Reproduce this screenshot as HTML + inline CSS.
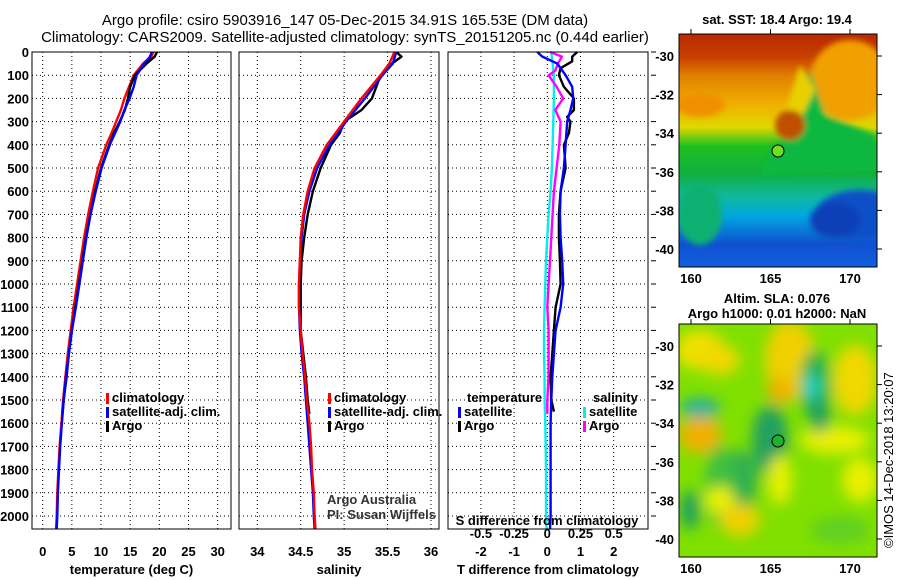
<!DOCTYPE html>
<html><head><meta charset="utf-8"><style>
body{margin:0;background:#fff}
svg{display:block;font-family:"Liberation Sans",sans-serif}
.t{font-size:13px;font-weight:bold;fill:#000}
</style></head><body>
<svg id="s" width="900" height="580" viewBox="0 0 900 580">
<defs>
<filter id="bl" x="-20%" y="-20%" width="140%" height="140%"><feGaussianBlur stdDeviation="7"/></filter>
<filter id="bl2"><feGaussianBlur stdDeviation="3"/></filter>
<clipPath id="c1"><rect x="679" y="34" width="198" height="233"/></clipPath>
<clipPath id="c2"><rect x="679" y="324" width="198" height="233"/></clipPath>
<linearGradient id="sst" x1="0" y1="0" x2="0" y2="1">
<stop offset="0" stop-color="#b82800"/><stop offset="0.1" stop-color="#c84000"/><stop offset="0.18" stop-color="#e08000"/>
<stop offset="0.3" stop-color="#f0b000"/><stop offset="0.4" stop-color="#e0d800"/><stop offset="0.48" stop-color="#20c020"/>
<stop offset="0.6" stop-color="#10b040"/><stop offset="0.7" stop-color="#10b8a0"/><stop offset="0.78" stop-color="#00a8e0"/>
<stop offset="0.9" stop-color="#1050d0"/><stop offset="1" stop-color="#1060e0"/></linearGradient>
</defs>
<text x="345" y="25" text-anchor="middle" style="font-size:15px">Argo profile: csiro 5903916_147 05-Dec-2015 34.91S 165.53E (DM data)</text>
<text x="345" y="42" text-anchor="middle" style="font-size:15px">Climatology: CARS2009. Satellite-adjusted climatology: synTS_20151205.nc (0.44d earlier)</text>
<g id="maps">
<g clip-path="url(#c1)">
<rect x="679" y="34" width="198" height="233" fill="url(#sst)"/>
<g filter="url(#bl2)">
<ellipse cx="850" cy="80" rx="40" ry="40" fill="#f0a000"/>
<polygon points="810,70 825,115 877,135 877,170 760,175 770,150 800,125" fill="#10b840"/>
<polygon points="800,65 815,90 800,120 790,140 780,130" fill="#e8d000"/>
<ellipse cx="790" cy="125" rx="15" ry="15" fill="#c05000"/>
<ellipse cx="860" cy="215" rx="45" ry="25" fill="#1050c8"/>
<ellipse cx="835" cy="220" rx="25" ry="18" fill="#1040b8"/>
<ellipse cx="700" cy="215" rx="22" ry="30" fill="#10b070"/>
<ellipse cx="700" cy="105" rx="25" ry="12" fill="#f09000"/>
</g>
<circle cx="778" cy="151" r="6" fill="#70e020" stroke="#000"/>
</g>
<rect x="679" y="34" width="198" height="233" fill="none" stroke="#000"/>
<g clip-path="url(#c2)">
<rect x="679" y="324" width="198" height="233" fill="#80e000"/>
<g filter="url(#bl)">
<ellipse cx="700" cy="350" rx="25" ry="20" fill="#f0e000"/>
<ellipse cx="720" cy="360" rx="20" ry="15" fill="#f0d800"/>
<ellipse cx="790" cy="360" rx="25" ry="40" fill="#f0d000"/>
<ellipse cx="780" cy="390" rx="12" ry="14" fill="#f0b000"/>
<ellipse cx="855" cy="380" rx="22" ry="35" fill="#f0d800"/>
<ellipse cx="815" cy="385" rx="15" ry="35" fill="#20b050"/>
<ellipse cx="812" cy="387" rx="8" ry="14" fill="#20d0c0"/>
<ellipse cx="700" cy="408" rx="20" ry="10" fill="#20b0a0"/>
<ellipse cx="700" cy="435" rx="22" ry="18" fill="#f0b000"/>
<ellipse cx="770" cy="440" rx="18" ry="35" fill="#20a060"/>
<ellipse cx="740" cy="480" rx="18" ry="30" fill="#30b050"/>
<ellipse cx="720" cy="485" rx="15" ry="40" fill="#40c040"/>
<ellipse cx="720" cy="500" rx="15" ry="14" fill="#e8f000"/>
<ellipse cx="780" cy="480" rx="12" ry="25" fill="#e8f000"/>
<ellipse cx="740" cy="520" rx="20" ry="16" fill="#f0d000"/>
<ellipse cx="835" cy="440" rx="35" ry="14" fill="#e8f000"/>
<ellipse cx="820" cy="415" rx="10" ry="18" fill="#20a060"/>
<ellipse cx="860" cy="480" rx="18" ry="22" fill="#e8f000"/>
<ellipse cx="690" cy="510" rx="10" ry="20" fill="#20a060"/>
<ellipse cx="840" cy="530" rx="30" ry="14" fill="#60d020"/>
</g>
<circle cx="778" cy="441" r="6" fill="#20b030" stroke="#000"/>
</g>
<rect x="679" y="324" width="198" height="233" fill="none" stroke="#000"/>
<text x="777" y="24" text-anchor="middle" class="t">sat. SST: 18.4 Argo: 19.4</text>
<text x="777" y="303" text-anchor="middle" class="t">Altim. SLA: 0.076</text>
<text x="777" y="318" text-anchor="middle" class="t">Argo h1000: 0.01 h2000: NaN</text>
<text transform="translate(893,548) rotate(-90)" style="font-size:13px">©IMOS 14-Dec-2018 13:20:07</text>
</g>
<g id="plots"></g>
</svg>
<script>
// ---- data ----
const depthTicks=[0,100,200,300,400,500,600,700,800,900,1000,1100,1200,1300,1400,1500,1600,1700,1800,1900,2000];
const tTicks=[0,5,10,15,20,25,30];
const sTicks=[34,34.5,35,35.5,36];
const dTTicks=[-2,-1,0,1,2];
const dSTickLabels=["-0.5","-0.25","0","0.25","0.5"];
const dSTicks=[-0.5,-0.25,0,0.25,0.5];
const latTicks=[-30,-32,-34,-36,-38,-40];
const lonTicks=[160,165,170];

const tClimD=[0,20,50,100,150,200,250,300,350,400,500,600,700,800,900,1000,1100,1200,1300,1400,1500,1600,1700,1800,1900,2000,2055];
const tClim=[19,18.6,17.2,15.6,14.8,14.0,13.4,12.6,11.8,10.9,9.5,8.6,7.8,7.1,6.5,5.9,5.3,4.8,4.3,3.9,3.5,3.2,2.9,2.7,2.5,2.4,2.3];
const tSatD=[0,20,50,100,150,200,250,300,350,400,500,600,700,800,900,1000,1100,1200,1300,1400,1500,1600,1700,1800,1900,2000,2055];
const tSat=[18.7,18.4,17.4,16.1,15.6,14.9,14.0,13.3,12.4,11.5,10.1,9.1,8.2,7.5,6.9,6.3,5.7,5.0,4.5,4.0,3.6,3.3,3.0,2.8,2.6,2.5,2.4];
const tArgoD=[0,20,50,100,150,200,250,300,350,400,500,600,700,800,900,1000,1100,1200,1300,1400,1500,1560];
const tArgo=[19.6,19.2,17.8,15.8,15.0,14.6,14.1,13.2,12.2,11.4,10.0,9.0,8.2,7.4,6.8,6.2,5.6,5.0,4.5,4.1,3.6,3.4];

const sClimD=[0,50,100,200,300,350,400,500,600,700,800,900,1000,1100,1200,1300,1400,1500,1600,1700,1800,1900,2000,2055];
const sClim=[35.58,35.52,35.42,35.2,35.0,34.9,34.8,34.66,34.58,34.53,34.5,34.49,34.48,34.48,34.5,34.52,34.55,34.57,34.6,34.62,34.63,34.65,34.66,34.67];
const sSatD=[0,50,100,200,300,350,400,500,600,700,800,900,1000,1100,1200,1300,1400,1500,1600,1700,1800,1900,2000,2055];
const sSat=[35.6,35.56,35.44,35.24,35.02,34.93,34.83,34.69,34.6,34.54,34.51,34.49,34.48,34.48,34.49,34.51,34.54,34.56,34.58,34.6,34.62,34.64,34.65,34.66];
const sArgoD=[0,20,50,100,150,200,250,300,350,400,500,600,700,800,900,1000,1100,1200,1300,1400,1500,1560];
const sArgo=[35.6,35.66,35.55,35.42,35.37,35.32,35.2,35.0,34.95,34.85,34.73,34.64,34.58,34.54,34.51,34.5,34.5,34.5,34.53,34.56,34.58,34.6];

const dTSatD=[0,20,50,100,150,200,250,300,400,500,600,700,800,900,1000,1100,1200,1300,1400,1500,1600,1800,2000,2055];
const dTSat=[-0.3,-0.15,0.3,0.55,0.75,0.78,0.7,0.6,0.55,0.5,0.4,0.38,0.4,0.45,0.48,0.4,0.25,0.2,0.15,0.12,0.1,0.1,0.1,0.08];
const dTArgoD=[0,20,40,70,100,150,200,250,280,300,350,400,500,600,700,800,900,1000,1100,1200,1300,1400,1500,1550];
const dTArgo=[0.9,0.75,0.75,0.4,0.35,0.5,0.8,0.8,0.6,0.7,0.65,0.5,0.55,0.4,0.35,0.35,0.38,0.4,0.25,0.2,0.15,0.1,0.12,0.2];
const dSSatD=[0,50,100,200,300,400,500,600,700,800,900,1000,1100,1200,1300,1400,1500,1600,1800,2000,2055];
const dSSat=[0.03,0.04,0.05,0.05,0.045,0.04,0.035,0.025,0.01,0,-0.01,-0.015,-0.02,-0.025,-0.025,-0.02,-0.02,-0.015,-0.01,-0.01,-0.005];
const dSArgoD=[0,20,50,80,100,150,200,250,300,400,500,600,700,800,900,1000,1100,1200,1300,1400,1500,1560];
const dSArgo=[0.02,0.11,0.08,0.06,0.01,0.07,0.12,0.06,0.1,0.09,0.07,0.05,0.04,0.03,0.02,0.01,0,0.01,0.01,0.01,0,0];

// ---- axes ----
const Y=d=>52+d*0.232;
const TOP=52,BOT=529;
const X1=v=>42.7+v*5.833;
const X2=v=>257.3+(v-34)*86.85;
const X3=v=>547.3+v*33.2;
const XS=v=>X3(v*4);
const latY=v=>56+(-30-v)*19.3;
const lonX=v=>691+(v-160)*15.9;

const NS='http://www.w3.org/2000/svg';
const root=document.getElementById('plots');
function mk(tag,at,parent){const e=document.createElementNS(NS,tag);for(const k in at)e.setAttribute(k,at[k]);(parent||root).appendChild(e);return e;}
function txt(x,y,s,anchor,parent,cls){const e=mk('text',{x:x,y:y,'text-anchor':anchor||'middle',class:cls||'t'},parent);e.textContent=s;return e;}

const panels=[{l:32,r:231,X:X1,ticks:tTicks,title:'temperature (deg C)',name:'temperature-panel'},
{l:239,r:439,X:X2,ticks:sTicks,title:'salinity',name:'salinity-panel'},
{l:448,r:648,X:X3,ticks:dTTicks,title:'T difference from climatology',name:'difference-panel'}];
panels.forEach((p,i)=>{
  const g=mk('g',{});
  
  
  depthTicks.forEach(d=>{const ln=mk('line',{x1:p.l,x2:p.r,y1:Y(d),y2:Y(d),stroke:'#000','stroke-dasharray':'1,3'},g);
    });
  p.ticks.forEach((v,k)=>{const x=p.X(v);const ln=mk('line',{x1:x,x2:x,y1:TOP,y2:BOT,stroke:'#000','stroke-dasharray':'1,3'},g);
    
    const t=txt(x,556,String(v),'middle',g);});
  const tt=txt((p.l+p.r)/2,574,p.title,'middle',g);
  
  p.g=g;
});
depthTicks.forEach(d=>{const t=txt(29,Y(d)+5,String(d),'end');
  
  const k=mk('line',{x1:651,x2:656,y1:Y(d),y2:Y(d),stroke:'#000'});
  });

function line(X,vals,ds,color,parent,name){
  const pts=vals.map((v,i)=>X(v).toFixed(1)+','+Y(ds[i]).toFixed(1));
  const e=mk('polyline',{points:pts.join(' '),fill:'none',stroke:color,'stroke-width':2.4,'stroke-linejoin':'round'},parent);
  
  
}
line(X1,tClim,tClimD,'#f00',panels[0].g,'temp-climatology-line');
line(X1,tArgo,tArgoD,'#000',panels[0].g,'temp-argo-line');
line(X1,tSat,tSatD,'#00f',panels[0].g,'temp-satellite-line');
line(X2,sArgo,sArgoD,'#000',panels[1].g,'sal-argo-line');
line(X2,sSat,sSatD,'#00f',panels[1].g,'sal-satellite-line');
line(X2,sClim,sClimD,'#f00',panels[1].g,'sal-climatology-line');
line(XS,dSSat,dSSatD,'#0ee',panels[2].g,'dsal-satellite-line');
line(XS,dSArgo,dSArgoD,'#f0f',panels[2].g,'dsal-argo-line');
line(X3,dTArgo,dTArgoD,'#000',panels[2].g,'dtemp-argo-line');
line(X3,dTSat,dTSatD,'#00f',panels[2].g,'dtemp-satellite-line');

panels.forEach(p=>{const b=mk('rect',{x:p.l,y:TOP,width:p.r-p.l,height:BOT-TOP,fill:'none',stroke:'#000'},p.g);
  });

function legend(x,y,items,parent){
  items.forEach((it,k)=>{
    const yy=y+k*14;
    const m=mk('rect',{x:x,y:yy-9,width:3,height:11,fill:it[1]},parent);
    
    const t=txt(x+6,yy,it[0],'start',parent);
    
  });
}
legend(106,402,[['climatology','#f00'],['satellite-adj. clim.','#00f'],['Argo','#000']],panels[0].g);
legend(328,402,[['climatology','#f00'],['satellite-adj. clim.','#00f'],['Argo','#000']],panels[1].g);
legend(458,416,[['satellite','#00f'],['Argo','#000']],panels[2].g);
legend(583,416,[['satellite','#0ee'],['Argo','#f0f']],panels[2].g);
let h=txt(467,402,'temperature','start',panels[2].g);
h=txt(593,402,'salinity','start',panels[2].g);
h=txt(547,525,'S difference from climatology','middle',panels[2].g);
dSTicks.forEach((v,k)=>{const t=txt(XS(v),538,dSTickLabels[k],'middle',panels[2].g);
  });
h=txt(327,504,'Argo Australia','start',panels[1].g,'');h.setAttribute('style','font-size:13px;fill:#333');

h=txt(327,519,'PI: Susan Wijffels','start',panels[1].g,'');h.setAttribute('style','font-size:13px;fill:#333');


// map axes
[[34,267],[324,557]].forEach(([t,b])=>{
  latTicks.forEach(v=>{const y=latY(v)+(t-34);
    const l=txt(674,y+5,String(v),'end');
    const k=mk('line',{x1:877,x2:882,y1:y,y2:y,stroke:'#000'});});
  lonTicks.forEach(v=>{const x=lonX(v);
    const l=txt(x,b+16,String(v),'middle');
    const k=mk('line',{x1:x,x2:x,y1:t-5,y2:t,stroke:'#000'});});
});
</script>
</body></html>
